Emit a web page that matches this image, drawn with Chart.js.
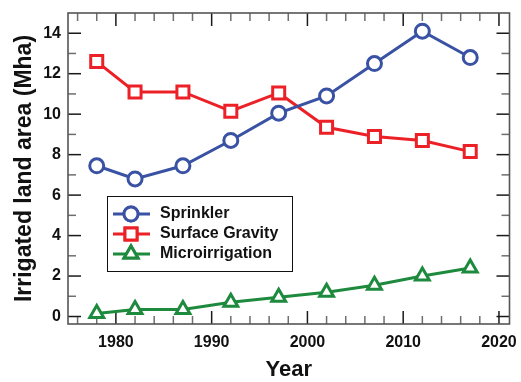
<!DOCTYPE html>
<html>
<head>
<meta charset="utf-8">
<script src="https://cdn.jsdelivr.net/npm/chart.js@4/dist/chart.umd.min.js"></script>
<style>
  body { margin: 0; background: #fff; }
  #wrap { width: 521px; height: 382px; }
</style>
</head>
<body>
<div id="wrap"><canvas id="irrigChart" width="521" height="382"></canvas></div>
<script>
// values
const years = [1978, 1982, 1987, 1992, 1997, 2002, 2007, 2012, 2017];
const sprinkler = [7.45, 6.8, 7.45, 8.7, 10.05, 10.9, 12.5, 14.1, 12.8];
const surfaceGravity = [12.6, 11.1, 11.1, 10.15, 11.05, 9.35, 8.9, 8.7, 8.15];
const microirrigation = [0.15, 0.35, 0.35, 0.7, 0.95, 1.2, 1.55, 2.0, 2.4];

const xTicks = [1980, 1990, 2000, 2010, 2020];
const yTicks = [0, 2, 4, 6, 8, 10, 12, 14];
const seriesNames = ['Sprinkler', 'Surface Gravity', 'Microirrigation'];

const BLUE = '#3a52a3';
const RED = '#ec2127';
const GREEN = '#1d8a3d';
const FONT = 'Liberation Sans, Arial, sans-serif';

function toPoints(vals) {
    return years.map((yr, i) => ({ x: yr, y: vals[i] }));
}

// frame plus inward ticks on all four sides
const frameTicks = {
    id: 'frameTicks',
    beforeDatasetsDraw(chart) {
        const ctx = chart.ctx;
        const a = chart.chartArea;
        const xs = chart.scales.x, ys = chart.scales.y;
        ctx.save();
        const tick = (x1, y1, x2, y2, major) => {
            ctx.beginPath();
            ctx.strokeStyle = major ? '#1a1a1a' : '#6e6e6e';
            ctx.lineWidth = 1.5;
            ctx.moveTo(x1, y1);
            ctx.lineTo(x2, y2);
            ctx.stroke();
        };
        for (let v = 1976; v <= 2020; v += 2) {
            const px = xs.getPixelForValue(v);
            const major = xTicks.includes(v);
            const len = major ? 13 : 8;
            tick(px, a.bottom, px, a.bottom - len, major);
            tick(px, a.top, px, a.top + len, major);
        }
        for (let v = 0; v <= 14; v += 1) {
            const py = ys.getPixelForValue(v);
            const major = yTicks.includes(v);
            const len = major ? 13 : 8;
            tick(a.left, py, a.left + len, py, major);
            tick(a.right, py, a.right - len, py, major);
        }
        ctx.strokeStyle = '#555';
        ctx.lineWidth = 1.6;
        ctx.strokeRect(a.left, a.top, a.right - a.left, a.bottom - a.top);
        ctx.restore();
    }
};

// boxed legend with line + marker samples
const boxLegend = {
    id: 'boxLegend',
    afterDraw(chart) {
        const ctx = chart.ctx;
        ctx.save();
        ctx.strokeStyle = '#111';
        ctx.lineWidth = 1;
        ctx.strokeRect(107.5, 196.5, 185, 75);
        chart.data.datasets.forEach((ds, i) => {
            const y = 214 + i * 20;
            ctx.beginPath();
            ctx.strokeStyle = ds.borderColor;
            ctx.lineWidth = 3;
            ctx.moveTo(113, y);
            ctx.lineTo(150, y);
            ctx.stroke();
            Chart.helpers.drawPoint(ctx, {
                pointStyle: ds.pointStyle,
                radius: ds.pointRadius,
                borderWidth: 3,
                rotation: 0
            }, 131, y);
            ctx.fillStyle = '#fff';
            ctx.strokeStyle = ds.borderColor;
            ctx.lineWidth = 3;
            ctx.fill();
            ctx.stroke();
            ctx.fillStyle = '#111';
            ctx.font = 'bold 16px ' + FONT;
            ctx.textBaseline = 'middle';
            ctx.textAlign = 'left';
            ctx.fillText(ds.label, 160, y);
        });
        ctx.restore();
    }
};

function makeSet(label, vals, color, style, radius) {
    return {
        label: label,
        data: toPoints(vals),
        borderColor: color,
        backgroundColor: '#fff',
        borderWidth: 3,
        tension: 0,
        pointStyle: style,
        pointRadius: radius,
        pointHoverRadius: radius,
        pointBorderWidth: 3,
        pointBackgroundColor: '#fff',
        pointBorderColor: color
    };
}

function createChart() {
    const ctx = document.getElementById('irrigChart').getContext('2d');
    new Chart(ctx, {
        type: 'line',
        data: {
            datasets: [
                makeSet(seriesNames[0], sprinkler, BLUE, 'circle', 7),
                makeSet(seriesNames[1], surfaceGravity, RED, 'rect', 8.5),
                makeSet(seriesNames[2], microirrigation, GREEN, 'triangle', 8)
            ]
        },
        options: {
            responsive: false,
            animation: false,
            events: [],
            layout: { padding: { top: 13, right: 7, left: 0, bottom: 0 } },
            plugins: {
                legend: { display: false },
                tooltip: { enabled: false }
            },
            scales: {
                x: {
                    type: 'linear',
                    min: 1975,
                    max: 2021.1,
                    grid: { display: false, drawTicks: false },
                    border: { display: false },
                    afterFit(scale) {
                        scale.height = 58;
                        scale.paddingLeft = 0;
                        scale.paddingRight = 0;
                    },
                    afterBuildTicks(scale) { scale.ticks = xTicks.map(v => ({ value: v })); },
                    ticks: {
                        padding: 9,
                        color: '#111',
                        maxRotation: 0,
                        callback: v => String(v),
                        font: { family: FONT, size: 16, weight: 'bold' }
                    },
                    title: {
                        display: true,
                        text: 'Year',
                        color: '#111',
                        padding: { top: 0, bottom: -1 },
                        font: { family: FONT, size: 22, weight: 'bold' }
                    }
                },
                y: {
                    min: -0.37,
                    max: 15,
                    grid: { display: false, drawTicks: false },
                    border: { display: false },
                    afterFit(scale) {
                        scale.width = 68;
                        scale.paddingTop = 0;
                        scale.paddingBottom = 0;
                    },
                    afterBuildTicks(scale) { scale.ticks = yTicks.map(v => ({ value: v })); },
                    ticks: {
                        padding: 7,
                        color: '#111',
                        callback: v => String(v),
                        font: { family: FONT, size: 16, weight: 'bold' }
                    },
                    title: {
                        display: true,
                        text: 'Irrigated land area (Mha)',
                        color: '#111',
                        padding: { top: 11, bottom: 0 },
                        font: { family: FONT, size: 23, weight: 'bold' }
                    }
                }
            }
        },
        plugins: [frameTicks, boxLegend]
    });
}
window.onload = createChart;
</script>
</body>
</html>
